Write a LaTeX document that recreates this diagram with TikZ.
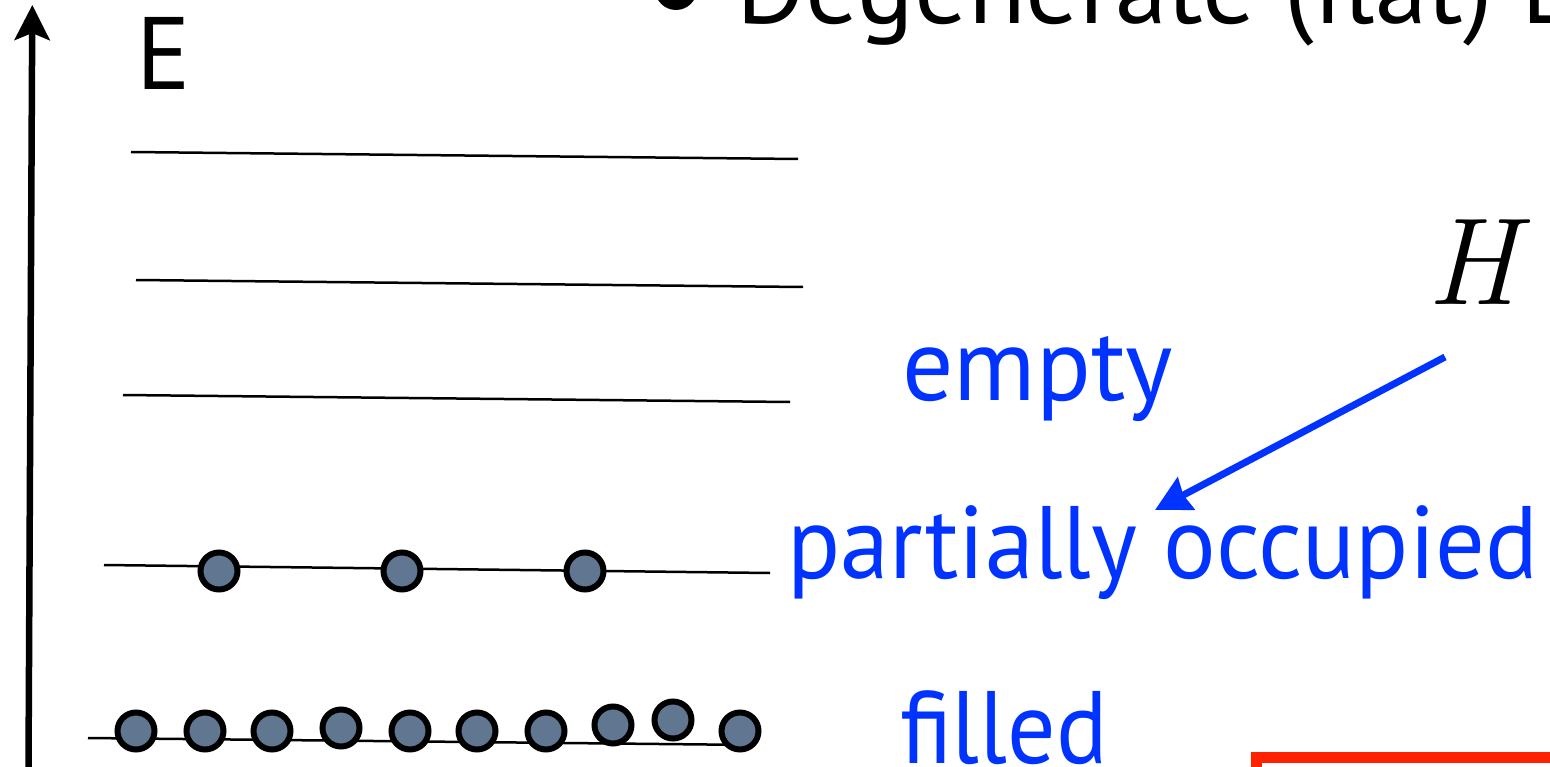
\documentclass[tikz,border=0pt]{standalone}
\usepackage{fontspec}
\usetikzlibrary{arrows.meta}
\newfontfamily\gill[FakeStretch=0.985]{PT Sans}
\newfontfamily\gillt[FakeStretch=1.025]{PT Sans}
\newfontfamily\gillp[FakeStretch=0.955]{PT Sans}
\newfontfamily\gillf[FakeStretch=0.93]{PT Sans}
\definecolor{lblblue}{RGB}{0,51,255}
\definecolor{boxred}{RGB}{255,34,0}
\definecolor{elecfill}{RGB}{96,118,145}
\begin{document}
\begin{tikzpicture}[x=1pt,y=-1pt,
  lvl/.style={line width=2.5pt},
  elec/.style={circle, draw=black, line width=6pt, fill=elecfill, minimum size=37pt, inner sep=0pt},
  bigtext/.style={anchor=base west, inner sep=0pt, font=\gill\fontsize{103}{110}\selectfont},
  lbl/.style={bigtext, text=lblblue},
]
\useasboundingbox (0,0) rectangle (1550,767);
\clip (0,0) rectangle (1550,767);
% energy axis
\coordinate (axbot) at (28.5,767);
\coordinate (axtop) at (32.3,5);
\draw[line width=6.5pt, -{Stealth[length=35pt,width=35pt,inset=7pt]}] (axbot) -- (axtop);
\node[bigtext] (E) at (136,90) {E};
% title line
\node[circle, fill=black, minimum size=42pt, inner sep=0pt] (bullet) at (676,-11) {};
\node[bigtext, font=\gillt\fontsize{103}{110}\selectfont] (title) at (736,24) {Degenerate (flat) L};
% empty levels
\draw[lvl] (131,152) -- (798,159);
\draw[lvl] (136,280) -- (803,287);
\draw[lvl] (123,395) -- (790,402);
% partially occupied level
\draw[lvl] (104,565) -- (770,573);
\foreach \x/\y [count=\i] in {219/571,402/571,585/571}
  \node[elec] (p\i) at (\x,\y) {};
% filled level
\draw[lvl] (88,738) -- (755,745);
\foreach \x/\y [count=\i] in {136/731,205/731,272/731,341/728,410/731,477/731,546/731,613/725,673/720,740/731}
  \node[elec] (f\i) at (\x,\y) {};
% labels
\node[lbl] (empty) at (902,400) {empty};
\node[lbl, font=\gillp\fontsize{103}{110}\selectfont] (partial) at (787,578) {partially occupied};
\node[lbl, font=\gillf\fontsize{103}{110}\selectfont] (filled) at (900,763) {filled};
\node[anchor=base west, inner sep=0pt, font=\fontsize{124}{124}\selectfont\itshape] (H) at (1427,305) {H};
\coordinate (hfrom) at (1445,357);
\coordinate (hto) at (1155,510);
\draw[lblblue, line width=7pt, -{Stealth[length=35pt,width=36pt,inset=3pt]}] (hfrom) -- (hto);
% red box
\draw[boxred, line width=11pt] (1256.5,757.5) rectangle (1620,820);
\end{tikzpicture}
\end{document}
